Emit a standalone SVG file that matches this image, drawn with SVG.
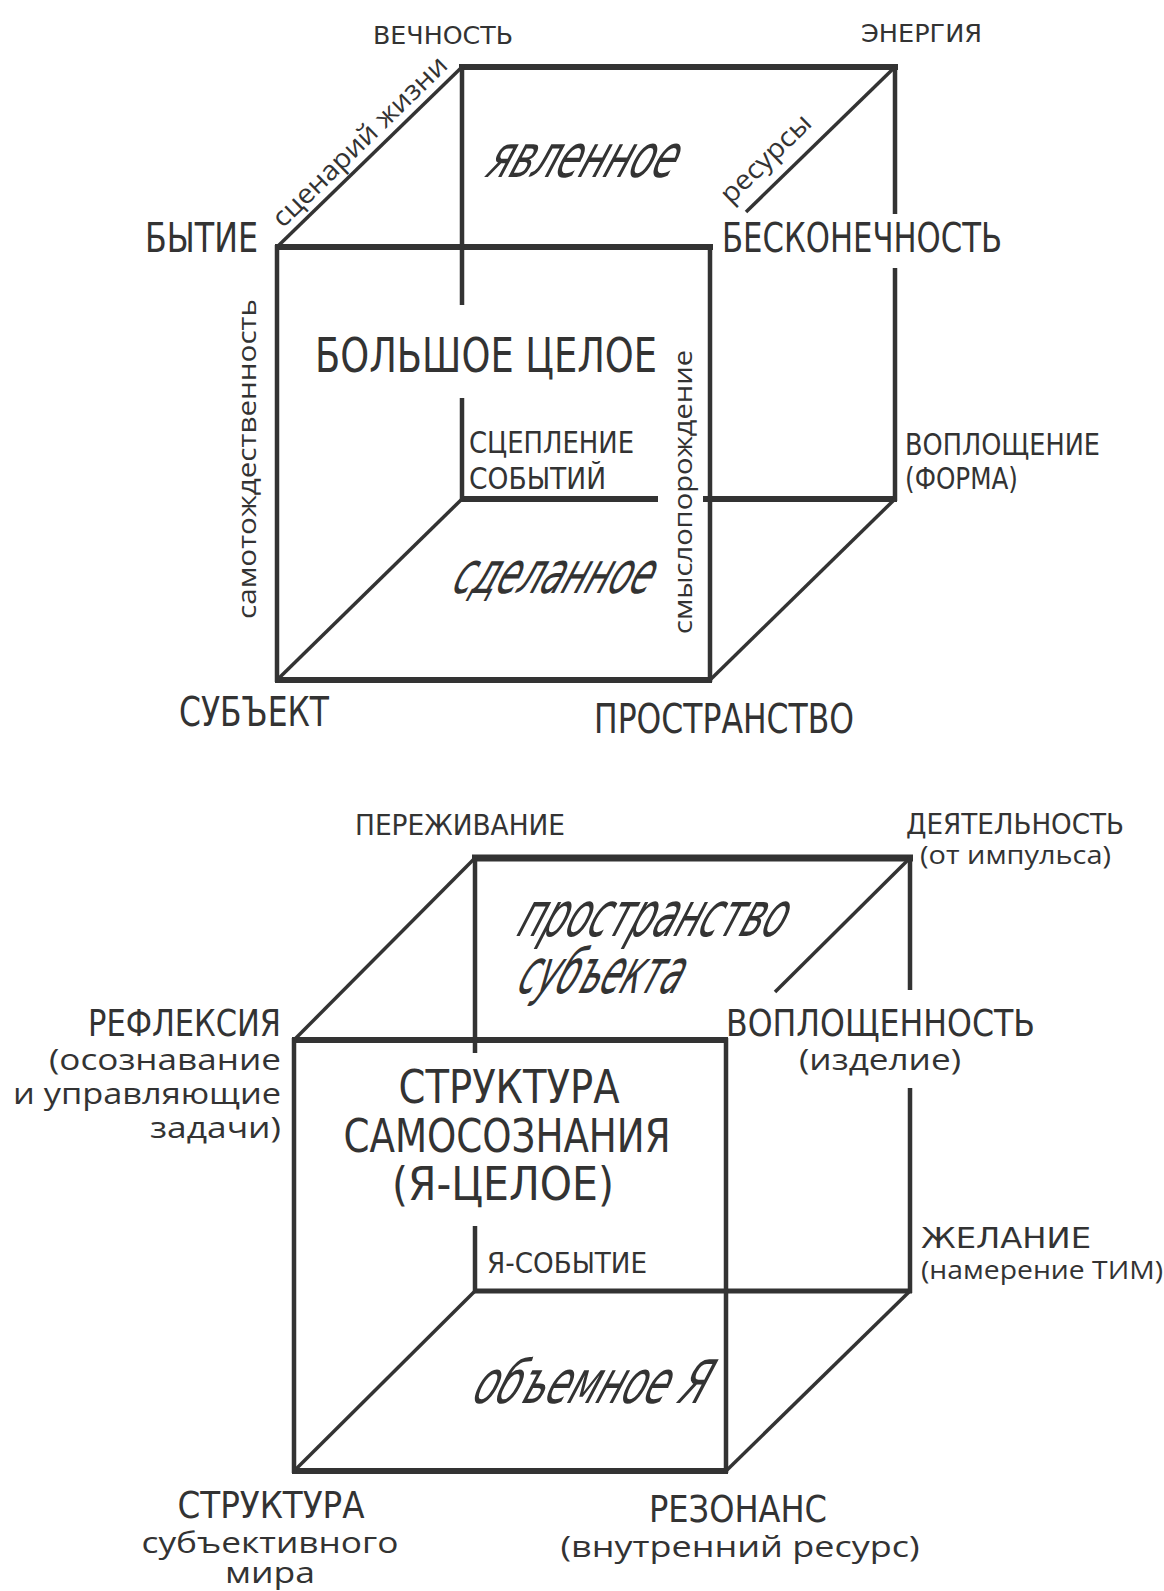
<svg xmlns="http://www.w3.org/2000/svg" width="1164" height="1591" viewBox="0 0 1164 1591">
<style>
.ln{stroke:#333;fill:none;stroke-linecap:butt}
.tk{stroke-width:6}
.md{stroke-width:4.5}
.dg{stroke-width:3.5}
.t{font-family:"DejaVu Sans Condensed","DejaVu Sans",sans-serif;font-stretch:condensed;fill:#333}
.l{font-family:"Open Sans","Noto Sans",sans-serif;fill:#333}
.i{font-family:"DejaVu Sans Condensed","DejaVu Sans",sans-serif;font-stretch:condensed;font-style:italic;fill:#333}
</style>
<rect width="1164" height="1591" fill="#fff"/>
<g id="connectors">
  <!-- top cube -->
  <line class="ln tk" x1="459" y1="67" x2="898" y2="67"/>
  <line class="ln tk" x1="275" y1="247" x2="713" y2="247"/>
  <line class="ln tk" x1="275" y1="680" x2="712" y2="680"/>
  <line class="ln tk" x1="460" y1="499" x2="658" y2="499"/>
  <line class="ln tk" x1="703" y1="499" x2="897" y2="499"/>
  <line class="ln md" x1="277" y1="245" x2="277" y2="682"/>
  <line class="ln md" x1="710" y1="245" x2="710" y2="682"/>
  <line class="ln md" x1="462" y1="65" x2="462" y2="305"/>
  <line class="ln md" x1="462" y1="398" x2="462" y2="501"/>
  <line class="ln md" x1="895" y1="65" x2="895" y2="214"/>
  <line class="ln md" x1="895" y1="268" x2="895" y2="501"/>
  <line class="ln dg" x1="277" y1="247" x2="462" y2="67"/>
  <line class="ln dg" x1="895" y1="67" x2="746" y2="212"/>
  <line class="ln dg" x1="277" y1="680" x2="462" y2="499"/>
  <line class="ln dg" x1="710" y1="680" x2="895" y2="499"/>
  <!-- bottom cube -->
  <line class="ln tk" x1="472" y1="858" x2="913" y2="858" style="stroke-width:7"/>
  <line class="ln tk" x1="292" y1="1040" x2="728" y2="1040"/>
  <line class="ln tk" x1="292" y1="1471" x2="728" y2="1471"/>
  <line class="ln tk" x1="473" y1="1291" x2="912" y2="1291" style="stroke-width:5"/>
  <line class="ln md" x1="294" y1="1038" x2="294" y2="1473"/>
  <line class="ln md" x1="726" y1="1038" x2="726" y2="1473"/>
  <line class="ln md" x1="475" y1="856" x2="475" y2="1053"/>
  <line class="ln md" x1="475" y1="1226" x2="475" y2="1293"/>
  <line class="ln md" x1="910" y1="856" x2="910" y2="990"/>
  <line class="ln md" x1="910" y1="1088" x2="910" y2="1293"/>
  <line class="ln dg" x1="294" y1="1040" x2="475" y2="858"/>
  <line class="ln dg" x1="910" y1="858" x2="775" y2="992"/>
  <line class="ln dg" x1="294" y1="1471" x2="475" y2="1291"/>
  <line class="ln dg" x1="726" y1="1471" x2="910" y2="1291"/>
</g>
<!-- top cube labels -->
<g id="n-vechnost"><text class="t" x="373" y="44" font-size="25" textLength="140" lengthAdjust="spacingAndGlyphs">ВЕЧНОСТЬ</text></g>
<g id="n-energiya"><text class="t" x="861" y="42" font-size="25" textLength="121" lengthAdjust="spacingAndGlyphs">ЭНЕРГИЯ</text></g>
<g id="n-scenariy"><text class="l" transform="translate(366,148) rotate(-44.2)" text-anchor="middle" font-size="27" textLength="232" lengthAdjust="spacingAndGlyphs">сценарий жизни</text></g>
<g id="n-resursy"><text class="l" transform="translate(772,165) rotate(-44.2)" text-anchor="middle" font-size="27" textLength="115" lengthAdjust="spacingAndGlyphs">ресурсы</text></g>
<g id="n-yavlennoe"><text class="i" transform="translate(484,177) skewX(-22)" font-size="60" textLength="188" lengthAdjust="spacingAndGlyphs">явленное</text></g>
<g id="n-bytie"><text class="t" x="145" y="252" font-size="40" textLength="113" lengthAdjust="spacingAndGlyphs">БЫТИЕ</text></g>
<g id="n-beskonechnost"><text class="t" x="722" y="252" font-size="40" textLength="280" lengthAdjust="spacingAndGlyphs">БЕСКОНЕЧНОСТЬ</text></g>
<g id="n-samotozhd"><text class="l" transform="translate(256,459) rotate(-90)" text-anchor="middle" font-size="25" textLength="320" lengthAdjust="spacingAndGlyphs">самотождественность</text></g>
<g id="n-bolshoe"><text class="t" x="315" y="372" font-size="48" textLength="342" lengthAdjust="spacingAndGlyphs">БОЛЬШОЕ ЦЕЛОЕ</text></g>
<g id="n-smyslo"><text class="l" transform="translate(692,492) rotate(-90)" text-anchor="middle" font-size="25" textLength="284" lengthAdjust="spacingAndGlyphs">смыслопорождение</text></g>
<g id="n-sceplenie"><text class="t" x="469" y="453" font-size="31" textLength="165" lengthAdjust="spacingAndGlyphs">СЦЕПЛЕНИЕ</text><text class="t" x="469" y="489" font-size="31" textLength="137" lengthAdjust="spacingAndGlyphs">СОБЫТИЙ</text></g>
<g id="n-voploshenie"><text class="t" x="905" y="455" font-size="31" textLength="195" lengthAdjust="spacingAndGlyphs">ВОПЛОЩЕНИЕ</text><text class="t" x="905" y="489" font-size="31" textLength="113" lengthAdjust="spacingAndGlyphs">(ФОРМА)</text></g>
<g id="n-sdelannoe"><text class="i" transform="translate(450,593) skewX(-22)" font-size="58" textLength="198" lengthAdjust="spacingAndGlyphs">сделанное</text></g>
<g id="n-subekt"><text class="t" x="179" y="726" font-size="40" textLength="150" lengthAdjust="spacingAndGlyphs">СУБЪЕКТ</text></g>
<g id="n-prostranstvo"><text class="t" x="594" y="733" font-size="40" textLength="260" lengthAdjust="spacingAndGlyphs">ПРОСТРАНСТВО</text></g>
<!-- bottom cube labels -->
<g id="n-perezhivanie"><text class="t" x="355" y="835" font-size="28" textLength="210" lengthAdjust="spacingAndGlyphs">ПЕРЕЖИВАНИЕ</text></g>
<g id="n-deyatelnost"><text class="t" x="906" y="834" font-size="28" textLength="218" lengthAdjust="spacingAndGlyphs">ДЕЯТЕЛЬНОСТЬ</text><text class="l" x="920" y="864" font-size="26" textLength="191" lengthAdjust="spacingAndGlyphs">(от импульса)</text></g>
<g id="n-prostr-subekta"><text class="i" transform="translate(515,936) skewX(-22)" font-size="62" textLength="266" lengthAdjust="spacingAndGlyphs">пространство</text><text class="i" transform="translate(515,993) skewX(-22)" font-size="62" textLength="162" lengthAdjust="spacingAndGlyphs">субъекта</text></g>
<g id="n-refleksiya" text-anchor="end"><text class="t" x="281" y="1036" font-size="37" textLength="193" lengthAdjust="spacingAndGlyphs">РЕФЛЕКСИЯ</text><text class="l" x="281" y="1070" font-size="29" textLength="232" lengthAdjust="spacingAndGlyphs">(осознавание</text><text class="l" x="281" y="1104" font-size="29" textLength="268" lengthAdjust="spacingAndGlyphs">и управляющие</text><text class="l" x="281" y="1138" font-size="29" textLength="131" lengthAdjust="spacingAndGlyphs">задачи)</text></g>
<g id="n-voploshennost"><text class="t" x="726" y="1036" font-size="37" textLength="309" lengthAdjust="spacingAndGlyphs">ВОПЛОЩЕННОСТЬ</text><text class="l" x="799" y="1070" font-size="29" textLength="162" lengthAdjust="spacingAndGlyphs">(изделие)</text></g>
<g id="n-struktura-samosozn" text-anchor="middle"><text class="t" x="509" y="1103" font-size="46" textLength="221" lengthAdjust="spacingAndGlyphs">СТРУКТУРА</text><text class="t" x="507" y="1152" font-size="46" textLength="327" lengthAdjust="spacingAndGlyphs">САМОСОЗНАНИЯ</text><text class="t" x="503" y="1200" font-size="46" textLength="222" lengthAdjust="spacingAndGlyphs">(Я-ЦЕЛОЕ)</text></g>
<g id="n-ya-sobytie"><text class="t" x="487" y="1273" font-size="28" textLength="160" lengthAdjust="spacingAndGlyphs">Я-СОБЫТИЕ</text></g>
<g id="n-zhelanie"><text class="t" x="921" y="1248" font-size="29" textLength="170" lengthAdjust="spacingAndGlyphs">ЖЕЛАНИЕ</text><text class="l" x="921" y="1279" font-size="26" textLength="242" lengthAdjust="spacingAndGlyphs">(намерение ТИМ)</text></g>
<g id="n-obemnoe"><text class="i" transform="translate(470,1403) skewX(-22)" font-size="60" textLength="232" lengthAdjust="spacingAndGlyphs">объемное Я</text></g>
<g id="n-struktura-subj" text-anchor="middle"><text class="t" x="271" y="1518" font-size="38" textLength="187" lengthAdjust="spacingAndGlyphs">СТРУКТУРА</text><text class="l" x="270" y="1553" font-size="29" textLength="257" lengthAdjust="spacingAndGlyphs">субъективного</text><text class="l" x="270" y="1583" font-size="29" textLength="90" lengthAdjust="spacingAndGlyphs">мира</text></g>
<g id="n-rezonans" text-anchor="middle"><text class="t" x="738" y="1522" font-size="38" textLength="178" lengthAdjust="spacingAndGlyphs">РЕЗОНАНС</text><text class="l" x="740" y="1557" font-size="29" textLength="359" lengthAdjust="spacingAndGlyphs">(внутренний ресурс)</text></g>
</svg>
